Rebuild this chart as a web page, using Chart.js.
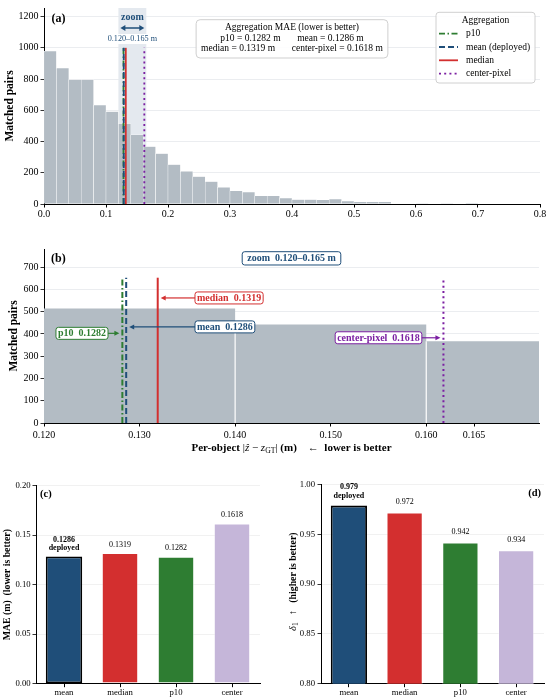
<!DOCTYPE html>
<html>
<head>
<meta charset="utf-8">
<script src="https://cdn.jsdelivr.net/npm/chart.js@4.4.1/dist/chart.umd.min.js"></script>
<style>
  html, body { margin: 0; padding: 0; background: #fff; }
  #wrap { position: relative; width: 550px; height: 699px; }
  .panel { position: absolute; }
</style>
</head>
<body>
<div id="wrap">
  <div class="panel" style="left:0;top:0;width:550px;height:230px"><canvas id="histAll"></canvas></div>
  <div class="panel" style="left:0;top:230px;width:550px;height:225px"><canvas id="histZoom"></canvas></div>
  <div class="panel" style="left:0;top:460px;width:275px;height:239px"><canvas id="maeBars"></canvas></div>
  <div class="panel" style="left:275px;top:460px;width:275px;height:239px"><canvas id="deltaBars"></canvas></div>
</div>
<script>
// ---- data ----
const BIN_WIDTH = 0.02;
const binStarts = [0.00, 0.02, 0.04, 0.06, 0.08, 0.10, 0.12, 0.14, 0.16, 0.18,
                   0.20, 0.22, 0.24, 0.26, 0.28, 0.30, 0.32, 0.34, 0.36, 0.38,
                   0.40, 0.42, 0.44, 0.46, 0.48, 0.50, 0.52, 0.54, 0.56, 0.58,
                   0.60, 0.62, 0.64, 0.66, 0.68, 0.70, 0.72, 0.74, 0.76, 0.78];
const binCounts = [979, 870, 797, 797, 633, 591, 515, 443, 367, 323,
                   252, 209, 175, 144, 106, 85, 76, 52, 53, 38,
                   29, 29, 26, 31, 19, 14, 14, 14, 0, 0,
                   3, 0, 3, 0, 2, 0, 0, 0, 0, 0];

const aggNames = ['p10', 'mean', 'median', 'center-pixel'];
const aggLegend = ['p10', 'mean (deployed)', 'median', 'center-pixel'];
const aggMae = [0.1282, 0.1286, 0.1319, 0.1618];
const zoomRange = [0.120, 0.165];

const methodLabels = ['mean', 'median', 'p10', 'center'];
const methodMae = [0.1286, 0.1319, 0.1282, 0.1618];
const methodDelta1 = [0.979, 0.972, 0.942, 0.934];
const DEPLOYED = 'mean';

const histXTicks = [0, 0.1, 0.2, 0.3, 0.4, 0.5, 0.6, 0.7, 0.8];
const histYTicks = [0, 200, 400, 600, 800, 1000, 1200];
const zoomXTicks = [0.120, 0.130, 0.140, 0.150, 0.160, 0.165];
const zoomYTicks = [0, 100, 200, 300, 400, 500, 600, 700];
const maeTicks = [0, 0.05, 0.10, 0.15, 0.20];
const deltaTicks = [0.80, 0.85, 0.90, 0.95, 1.00];

// ---- style ----
const FAMILY = "'Liberation Serif', 'Times New Roman', Times, serif";
Chart.defaults.font.family = FAMILY;
Chart.defaults.color = '#000';

const HIST_GREY = '#b3bcc4';
const GRID = '#e6e9ec';
const ZOOM_SHADE = '#e4e9ef';
const NAVY = '#1f4e79';
const AGG_STYLE = {
  'p10':          { color: '#2e7d32', dash: [6, 2.5, 1.5, 2.5] },
  'mean':         { color: '#1f4e79', dash: [6, 3] },
  'median':       { color: '#d32f2f', dash: [] },
  'center-pixel': { color: '#7b1fa2', dash: [2, 3.2] }
};
const BAR_COLORS = ['#1f4e79', '#d32f2f', '#2e7d32', '#c5b6d9'];

function font(size, weight, style) {
  return [style || '', weight || '', size + 'px', FAMILY].join(' ').trim();
}

function roundBox(ctx, x, y, w, h, r, fill, stroke, lw) {
  ctx.beginPath();
  ctx.moveTo(x + r, y);
  ctx.arcTo(x + w, y, x + w, y + h, r);
  ctx.arcTo(x + w, y + h, x, y + h, r);
  ctx.arcTo(x, y + h, x, y, r);
  ctx.arcTo(x, y, x + w, y, r);
  ctx.closePath();
  if (fill) { ctx.fillStyle = fill; ctx.fill(); }
  if (stroke) { ctx.setLineDash([]); ctx.strokeStyle = stroke; ctx.lineWidth = lw || 1; ctx.stroke(); }
}

function arrowHead(ctx, x, y, dir, color, len, half) {
  ctx.beginPath();
  ctx.moveTo(x, y);
  ctx.lineTo(x - dir * len, y - half);
  ctx.lineTo(x - dir * len, y + half);
  ctx.closePath();
  ctx.fillStyle = color;
  ctx.fill();
}

function hArrow(ctx, from, to, y, color) {
  const dir = Math.sign(to - from);
  ctx.setLineDash([]);
  ctx.strokeStyle = color;
  ctx.lineWidth = 1.2;
  ctx.beginPath();
  ctx.moveTo(from, y);
  ctx.lineTo(to - dir * 4, y);
  ctx.stroke();
  arrowHead(ctx, to, y, dir, color, 5, 2.5);
}

function doubleArrow(ctx, x1, x2, y, color) {
  ctx.setLineDash([]);
  ctx.strokeStyle = color;
  ctx.lineWidth = 1.5;
  ctx.beginPath();
  ctx.moveTo(x1 + 4, y);
  ctx.lineTo(x2 - 4, y);
  ctx.stroke();
  arrowHead(ctx, x2, y, 1, color, 5, 3);
  arrowHead(ctx, x1, y, -1, color, 5, 3);
}

// boxed label; align = where x sits on the box ('left' edge, 'right' edge or 'center')
function boxLabel(ctx, text, x, y, align, color, size, padX, h) {
  ctx.font = font(size, 'bold');
  const w = ctx.measureText(text).width + 2 * padX;
  const left = align === 'left' ? x : align === 'right' ? x - w : x - w / 2;
  roundBox(ctx, left, y - h / 2, w, h, 2.5, '#fff', color, 1);
  ctx.fillStyle = color;
  ctx.textAlign = 'center';
  ctx.textBaseline = 'middle';
  ctx.fillText(text, left + w / 2, y + 0.5);
  return { left: left, right: left + w };
}

function drawRich(ctx, parts, cx, cy, angle) {
  ctx.save();
  ctx.translate(cx, cy);
  ctx.rotate(angle || 0);
  ctx.textBaseline = 'middle';
  ctx.textAlign = 'left';
  let total = 0;
  parts.forEach(p => { ctx.font = p.font; p.w = ctx.measureText(p.text).width; total += p.w; });
  let x = -total / 2;
  parts.forEach(p => {
    ctx.font = p.font;
    ctx.fillStyle = '#000';
    ctx.fillText(p.text, x, p.dy || 0);
    x += p.w;
  });
  ctx.restore();
}

function aggLineDatasets(top, width) {
  return aggNames.map((name, i) => ({
    type: 'line',
    label: aggLegend[i],
    xAxisID: 'x',
    data: [{ x: aggMae[i], y: 0 }, { x: aggMae[i], y: top }],
    borderColor: AGG_STYLE[name].color,
    borderWidth: width,
    borderDash: AGG_STYLE[name].dash,
    pointRadius: 0,
    fill: false,
    order: name === 'mean' ? 0 : i + 1
  }));
}

function histBars() {
  return binStarts.map((s, i) => ({ x: s + BIN_WIDTH / 2, y: binCounts[i] }));
}

// left edge of every bin, plus the closing right edge, for a step outline
function histSteps() {
  const pts = binStarts.map((s, i) => ({ x: s, y: binCounts[i] }));
  const last = binStarts.length - 1;
  pts.push({ x: binStarts[last] + BIN_WIDTH, y: binCounts[last] });
  return pts;
}

function fixedTicks(list) {
  return scale => { scale.ticks = list.map(v => ({ value: v })); };
}

const hideZero = ctx => (ctx.tick && ctx.tick.value === 0 ? 'rgba(0,0,0,0)' : GRID);

// ---- (a) full histogram ----
const LINE_TOP_A = 1000;

const histAllNotes = {
  id: 'histAllNotes',
  beforeDatasetsDraw(chart) {
    const { ctx, chartArea: a, scales: { x } } = chart;
    const x0 = x.getPixelForValue(zoomRange[0]);
    const x1 = x.getPixelForValue(zoomRange[1]);
    ctx.save();
    ctx.fillStyle = ZOOM_SHADE;
    ctx.fillRect(x0, a.top, x1 - x0, a.bottom - a.top - 0.5);
    ctx.restore();
  },
  afterDraw(chart) {
    const { ctx, chartArea: a, scales: { x } } = chart;
    const x0 = x.getPixelForValue(zoomRange[0]);
    const x1 = x.getPixelForValue(zoomRange[1]);
    const xm = (x0 + x1) / 2;
    ctx.save();

    // zoom marker
    ctx.textAlign = 'center';
    ctx.textBaseline = 'middle';
    ctx.fillStyle = NAVY;
    ctx.font = font(10, 'bold');
    ctx.fillText('zoom', xm, a.top + 9.3);
    doubleArrow(ctx, x0 + 2, x1 - 2, a.top + 20, NAVY);
    const rangeText = zoomRange[0].toFixed(3) + '\u2013' + zoomRange[1].toFixed(3) + ' m';
    ctx.font = font(8.2);
    const rw = ctx.measureText(rangeText).width;
    ctx.fillStyle = '#fff';
    ctx.fillRect(xm - rw / 2 - 1, a.top + 26, rw + 2, 10);
    ctx.fillStyle = NAVY;
    ctx.fillText(rangeText, xm, a.top + 31);

    // panel tag
    ctx.textAlign = 'left';
    ctx.fillStyle = '#000';
    ctx.font = font(12, 'bold');
    ctx.fillText('(a)', a.left + 7.4, a.top + 10.7);

    // summary box
    const gap = '       ';
    const pair = i => aggNames[i] + ' = ' + aggMae[i].toFixed(4) + ' m';
    const lines = ['Aggregation MAE (lower is better)', pair(0) + gap + pair(1), pair(2) + gap + pair(3)];
    ctx.font = font(9.5);
    const bw = Math.max(...lines.map(t => ctx.measureText(t).width)) + 10;
    const cx = (a.left + a.right) / 2;
    const by = a.top + 11.7;
    roundBox(ctx, cx - bw / 2, by, bw, 38.3, 4, 'rgba(255,255,255,0.9)', '#cfcfcf', 1);
    ctx.fillStyle = '#000';
    ctx.textAlign = 'center';
    lines.forEach((t, i) => ctx.fillText(t, cx, by + 7.8 + i * 10.7));

    // legend
    const lx = a.right - 104, ly = a.top + 4.3;
    roundBox(ctx, lx, ly, 99, 70.7, 3, 'rgba(255,255,255,0.9)', '#d0d0d0', 1);
    ctx.fillStyle = '#000';
    ctx.textAlign = 'center';
    ctx.fillText('Aggregation', lx + 49.5, ly + 8);
    chart.data.datasets.filter(d => d.label).forEach((d, i) => {
      const yy = ly + 21.4 + i * 13.3;
      ctx.strokeStyle = d.borderColor;
      ctx.lineWidth = 1.8;
      ctx.setLineDash(d.borderDash);
      ctx.beginPath();
      ctx.moveTo(lx + 3, yy);
      ctx.lineTo(lx + 22, yy);
      ctx.stroke();
      ctx.setLineDash([]);
      ctx.fillStyle = '#000';
      ctx.textAlign = 'left';
      ctx.fillText(d.label, lx + 30, yy);
    });
    ctx.restore();
  }
};

new Chart(document.getElementById('histAll'), {
  type: 'bar',
  data: {
    datasets: [
      ...aggLineDatasets(LINE_TOP_A, 1.8),
      {
        type: 'bar',
        xAxisID: 'x',
        data: histBars(),
        backgroundColor: HIST_GREY,
        borderColor: '#ffffff',
        borderWidth: 0.5,
        barPercentage: 1,
        categoryPercentage: 1,
        order: 10
      }
    ]
  },
  options: {
    responsive: true,
    maintainAspectRatio: false,
    animation: false,
    events: [],
    layout: { padding: { top: 5, right: 10, left: 0, bottom: 0 } },
    plugins: { legend: { display: false }, tooltip: { enabled: false } },
    scales: {
      x: {
        type: 'linear', position: 'bottom', min: 0, max: 0.8, offset: false, z: 1,
        afterBuildTicks: fixedTicks(histXTicks),
        afterFit: s => { s.height = 26; },
        grid: { display: true, drawOnChartArea: false, drawTicks: true, tickLength: 3.5, tickColor: '#000', offset: false },
        border: { display: true, color: '#000', width: 1 },
        ticks: { font: { size: 10 }, padding: 1, maxRotation: 0, autoSkip: false, callback: v => v.toFixed(1) }
      },
      y: {
        min: 0, max: 1255, z: 1,
        afterBuildTicks: fixedTicks(histYTicks),
        afterFit: s => { s.width = 44; },
        grid: { color: hideZero, lineWidth: 0.8, tickColor: '#000', tickLength: 3.5 },
        border: { display: true, color: '#000', width: 1 },
        ticks: { font: { size: 10 }, padding: 2, callback: v => String(v) },
        title: { display: true, text: 'Matched pairs', font: { size: 11.5, weight: 'bold' }, padding: { top: 3.1, bottom: 0 } }
      }
    }
  },
  plugins: [histAllNotes]
});

// ---- (b) zoomed histogram ----
const LINE_TOP_B = 653;
const ZOOM_X_MAX = 0.1718;
const zoomNotes = [
  { name: 'median',       anchor: 0.1358,  side: 'left',  y: 562 },
  { name: 'mean',         anchor: 0.1358,  side: 'left',  y: 432 },
  { name: 'p10',          anchor: 0.1267,  side: 'right', y: 403 },
  { name: 'center-pixel', anchor: 0.15954, side: 'right', y: 383 }
];

const histZoomNotes = {
  id: 'histZoomNotes',
  // white seams between neighbouring bins, drawn right after the histogram fill
  afterDatasetDraw(chart, args) {
    if (chart.data.datasets[args.index].label) return;
    const { ctx, chartArea: a, scales: { x, y } } = chart;
    ctx.save();
    ctx.strokeStyle = '#ffffff';
    ctx.lineWidth = 1.2;
    ctx.setLineDash([]);
    for (let i = 1; i < binStarts.length; i++) {
      const px = x.getPixelForValue(binStarts[i]);
      if (px <= a.left + 1 || px >= a.right - 1) continue;
      ctx.beginPath();
      ctx.moveTo(px, y.getPixelForValue(0));
      ctx.lineTo(px, y.getPixelForValue(Math.min(binCounts[i - 1], binCounts[i])));
      ctx.stroke();
    }
    ctx.restore();
  },
  afterDraw(chart) {
    const { ctx, chartArea: a, scales: { x, y } } = chart;
    ctx.save();
    ctx.textAlign = 'left';
    ctx.textBaseline = 'middle';
    ctx.fillStyle = '#000';
    ctx.font = font(12, 'bold');
    ctx.fillText('(b)', a.left + 7, a.top + 10.3);

    const zoomText = 'zoom  ' + zoomRange[0].toFixed(3) + '\u2013' + zoomRange[1].toFixed(3) + ' m';
    boxLabel(ctx, zoomText, (a.left + a.right) / 2, y.getPixelForValue(740), 'center', NAVY, 10, 5, 13.3);

    zoomNotes.forEach(n => {
      const i = aggNames.indexOf(n.name);
      const color = AGG_STYLE[n.name].color;
      const py = y.getPixelForValue(n.y);
      const lineX = x.getPixelForValue(aggMae[i]);
      const box = boxLabel(ctx, n.name + '  ' + aggMae[i].toFixed(4), x.getPixelForValue(n.anchor), py, n.side, color, 10, 2, 12);
      if (n.side === 'left') hArrow(ctx, box.left, lineX + 3, py, color);
      else hArrow(ctx, box.right, lineX - 3, py, color);
    });

    drawRich(ctx, [
      { text: 'Per-object ', font: font(11, 'bold') },
      { text: '|', font: font(11) },
      { text: '\u1E91', font: font(11, '', 'italic') },
      { text: ' \u2212 ', font: font(11) },
      { text: 'z', font: font(11, '', 'italic') },
      { text: 'GT', font: font(7.7), dy: 2.5 },
      { text: '|', font: font(11) },
      { text: ' (m)', font: font(11, 'bold') },
      { text: '    \u2190  lower is better', font: font(11, 'bold') }
    ], (a.left + a.right) / 2, a.bottom + 25.5);
    ctx.restore();
  }
};

new Chart(document.getElementById('histZoom'), {
  type: 'line',
  data: {
    datasets: [
      ...aggLineDatasets(LINE_TOP_B, 2),
      {
        type: 'line',
        xAxisID: 'x',
        data: histSteps(),
        stepped: 'before',
        fill: 'origin',
        backgroundColor: HIST_GREY,
        borderColor: 'rgba(0,0,0,0)',
        borderWidth: 0,
        pointRadius: 0,
        order: 10
      }
    ]
  },
  options: {
    responsive: true,
    maintainAspectRatio: false,
    animation: false,
    events: [],
    layout: { padding: { top: 19, right: 11, left: 0, bottom: 0 } },
    plugins: { legend: { display: false }, tooltip: { enabled: false } },
    scales: {
      x: {
        type: 'linear', position: 'bottom', min: zoomRange[0], max: ZOOM_X_MAX, offset: false, z: 1,
        afterBuildTicks: fixedTicks(zoomXTicks),
        afterFit: s => { s.height = 32; },
        grid: { display: true, drawOnChartArea: false, drawTicks: true, tickLength: 3.5, tickColor: '#000', offset: false },
        border: { display: true, color: '#000', width: 1 },
        ticks: { font: { size: 10 }, padding: 3, maxRotation: 0, autoSkip: false, callback: v => v.toFixed(3) }
      },
      y: {
        min: 0, max: 782, z: 1,
        afterBuildTicks: fixedTicks(zoomYTicks),
        afterFit: s => { s.width = 44; },
        grid: { color: hideZero, lineWidth: 0.8, tickColor: '#000', tickLength: 3.5 },
        border: { display: true, color: '#000', width: 1 },
        ticks: { font: { size: 10 }, padding: 2, callback: v => String(v) },
        title: { display: true, text: 'Matched pairs', font: { size: 11.5, weight: 'bold' }, padding: { top: 7.3, bottom: 0 } }
      }
    }
  },
  plugins: [histZoomNotes]
});

// ---- (c) / (d) bar panels ----
function barValueLabels(decimals, lift) {
  return {
    id: 'barValues',
    afterDatasetsDraw(chart) {
      const { ctx } = chart;
      const meta = chart.getDatasetMeta(0);
      const values = chart.data.datasets[0].data;
      ctx.save();
      ctx.textAlign = 'center';
      ctx.textBaseline = 'middle';
      ctx.fillStyle = '#000';
      meta.data.forEach((bar, i) => {
        const deployed = chart.data.labels[i] === DEPLOYED;
        ctx.font = font(8, deployed ? 'bold' : '');
        if (deployed) {
          ctx.fillText('deployed', bar.x, bar.y - lift + 0.5);
          ctx.fillText(values[i].toFixed(decimals), bar.x, bar.y - lift - 8.3);
        } else {
          ctx.fillText(values[i].toFixed(decimals), bar.x, bar.y - lift);
        }
      });
      ctx.restore();
    }
  };
}

function panelTag(text, side) {
  return {
    id: 'panelTag',
    afterDraw(chart) {
      const { ctx, chartArea: a } = chart;
      ctx.save();
      ctx.font = font(10.5, 'bold');
      ctx.fillStyle = '#000';
      ctx.textBaseline = 'middle';
      ctx.textAlign = side;
      ctx.fillText(text, side === 'left' ? a.left + 4 : a.right - 3, a.top + 8.2);
      ctx.restore();
    }
  };
}

function barDataset(values) {
  return {
    data: values,
    backgroundColor: BAR_COLORS,
    borderColor: methodLabels.map(m => (m === DEPLOYED ? '#000' : 'rgba(255,255,255,0.45)')),
    borderWidth: methodLabels.map(m => (m === DEPLOYED ? 1.8 : 1)),
    borderSkipped: false,
    barPercentage: 0.65,
    categoryPercentage: 1
  };
}

function barOptions(min, max, ticks, yWidth, tickPad, padTop, padRight, title) {
  return {
    responsive: true,
    maintainAspectRatio: false,
    animation: false,
    events: [],
    layout: { padding: { top: padTop, right: padRight, left: 0, bottom: 0 } },
    plugins: { legend: { display: false }, tooltip: { enabled: false } },
    scales: {
      x: {
        z: 1,
        afterFit: s => { s.height = 15.3; },
        grid: { display: true, drawOnChartArea: false, drawTicks: true, tickLength: 3.5, tickColor: '#000', offset: false },
        border: { display: true, color: '#000', width: 1 },
        ticks: { font: { size: 8.7 }, padding: 0.5, maxRotation: 0, autoSkip: false }
      },
      y: {
        min: min, max: max,
        afterBuildTicks: fixedTicks(ticks),
        afterFit: s => { s.width = yWidth; },
        grid: { color: ctx => (ctx.tick && Math.abs(ctx.tick.value - min) < 1e-9 ? 'rgba(0,0,0,0)' : '#ededed'), lineWidth: 0.8, tickColor: '#000', tickLength: 3.5 },
        border: { display: true, color: '#000', width: 1 },
        ticks: { font: { size: 8.7 }, padding: tickPad, callback: v => v.toFixed(2) },
        title: title
      }
    }
  };
}

new Chart(document.getElementById('maeBars'), {
  type: 'bar',
  data: { labels: methodLabels, datasets: [barDataset(methodMae)] },
  options: barOptions(0, 0.2, maeTicks, 36, 1.8, 25.7, 15,
    { display: true, text: 'MAE (m)  (lower is better)', font: { size: 9.8, weight: 'bold' }, padding: { top: 1.4, bottom: 0 } }),
  plugins: [barValueLabels(4, 8.5), panelTag('(c)', 'left')]
});

const deltaTitle = {
  id: 'deltaTitle',
  afterDraw(chart) {
    const { ctx, chartArea: a } = chart;
    drawRich(ctx, [
      { text: '\u03B4', font: font(10.5, '', 'italic') },
      { text: '1', font: font(7.5), dy: 2.5 },
      { text: '   \u2191   ', font: font(9.8) },
      { text: '(higher is better)', font: font(9.8, 'bold') }
    ], 18.3, (a.top + a.bottom) / 2 - 2.5, -Math.PI / 2);
  }
};

new Chart(document.getElementById('deltaBars'), {
  type: 'bar',
  data: { labels: methodLabels, datasets: [barDataset(methodDelta1)] },
  options: barOptions(0.8, 1.0, deltaTicks, 46, 2.5, 24.7, 6, { display: false }),
  plugins: [barValueLabels(3, 10.5), panelTag('(d)', 'right'), deltaTitle]
});
</script>
</body>
</html>
